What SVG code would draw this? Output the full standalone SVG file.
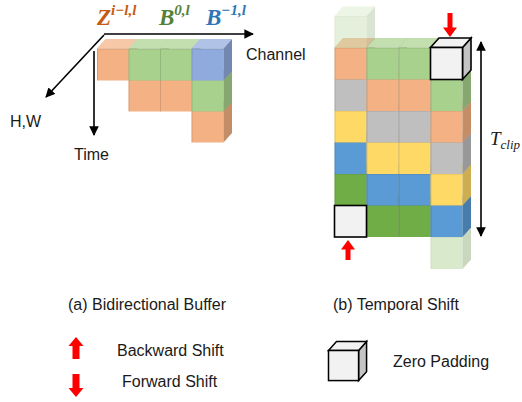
<svg xmlns="http://www.w3.org/2000/svg" xmlns:xlink="http://www.w3.org/1999/xlink" width="522" height="402" viewBox="0 0 522 402">
<style>
text{font-family:"Liberation Sans",Arial,sans-serif;font-size:16px;fill:#1a1a1a}
text.math{font-family:"Liberation Serif","DejaVu Serif",serif;font-style:italic;font-weight:bold;font-size:23px}
tspan.sup{font-size:15px}
.ax{stroke:#000;stroke-width:1.6;fill:none}
.red{fill:#ff0000}
.zero{fill:#f2f2f2;stroke:#000;stroke-width:1.6}
.zside{fill:#c4c4c4;stroke:#000;stroke-width:1.6}
.edge{fill:none;stroke:#000;stroke-opacity:.12;stroke-width:1}
</style>
<defs>
<g id="cube">
<rect width="32" height="32"/>
<path d="M0,0 L8.5,-9.5 L40.5,-9.5 L32,0Z"/>
<path d="M32,0 L40.5,-9.5 L40.5,22.5 L32,32Z"/>
<path d="M0,0 L8.5,-9.5 L40.5,-9.5 L32,0Z" fill="#fff" fill-opacity=".3"/>
<path d="M32,0 L40.5,-9.5 L40.5,22.5 L32,32Z" fill="#000" fill-opacity=".2"/>
<path class="edge" d="M0.5,32 V0.5 H32"/>
</g>
<g id="zcube">
<path class="zside" d="M32,0 L40.5,-9.5 L40.5,22.5 L32,32Z"/>
<path class="zero" d="M0,0 L8.5,-9.5 L40.5,-9.5 L32,0Z"/>
<rect class="zero" width="32" height="32"/>
</g>
<marker id="ah" viewBox="0 0 10 10" refX="9" refY="5" markerWidth="6" markerHeight="6" orient="auto-start-reverse" markerUnits="strokeWidth">
<path d="M0,0 L10,5 L0,10Z" fill="#000"/>
</marker>
</defs>

<!-- (a) Bidirectional buffer -->
<g id="labels-a">
<text class="math" x="97" y="25" style="fill:#c55a11">Z<tspan class="sup" dy="-10">i−l,l</tspan></text>
<text class="math" x="159" y="25" style="fill:#548235">B<tspan class="sup" dy="-10">0,l</tspan></text>
<text class="math" x="206" y="25" style="fill:#2e75b6">B<tspan class="sup" dy="-10">−1,l</tspan></text>
</g>
<g id="buffer-cubes">
<use xlink:href="#cube" x="191.5" y="110.5" fill="#f4b183"/>
<use xlink:href="#cube" x="128.5" y="79.5" fill="#f4b183"/>
<use xlink:href="#cube" x="160" y="79.5" fill="#f4b183"/>
<use xlink:href="#cube" x="191.5" y="79.5" fill="#a9d18e"/>
<use xlink:href="#cube" x="97" y="48.5" fill="#f4b183"/>
<use xlink:href="#cube" x="128.5" y="48.5" fill="#a9d18e"/>
<use xlink:href="#cube" x="160" y="48.5" fill="#a9d18e"/>
<use xlink:href="#cube" x="191.5" y="48.5" fill="#8faadc"/>
</g>
<g id="connectors">
<line class="ax" x1="104" y1="34" x2="253" y2="34" marker-end="url(#ah)"/>
<line class="ax" x1="104" y1="35" x2="46" y2="97" marker-end="url(#ah)"/>
<line class="ax" x1="94" y1="51" x2="94" y2="135" marker-end="url(#ah)"/>
<line class="ax" x1="481" y1="42" x2="481" y2="236" marker-start="url(#ah)" marker-end="url(#ah)"/>
</g>
<g id="axis-labels">
<text x="246" y="60">Channel</text>
<text x="10" y="127">H,W</text>
<text x="74" y="160">Time</text>
</g>

<!-- (b) Temporal shift -->
<g id="shift-cubes">
<use xlink:href="#cube" x="430.5" y="237" fill="#a9d18e" opacity=".45"/>
<use xlink:href="#cube" x="366.5" y="205" fill="#70ad47"/>
<use xlink:href="#cube" x="398.5" y="205" fill="#70ad47"/>
<use xlink:href="#cube" x="430.5" y="205" fill="#5b9bd5"/>
<use xlink:href="#cube" x="334.5" y="173.5" fill="#70ad47"/>
<use xlink:href="#cube" x="366.5" y="173.5" fill="#5b9bd5"/>
<use xlink:href="#cube" x="398.5" y="173.5" fill="#5b9bd5"/>
<use xlink:href="#cube" x="430.5" y="173.5" fill="#ffd966"/>
<use xlink:href="#cube" x="334.5" y="142" fill="#5b9bd5"/>
<use xlink:href="#cube" x="366.5" y="142" fill="#ffd966"/>
<use xlink:href="#cube" x="398.5" y="142" fill="#ffd966"/>
<use xlink:href="#cube" x="430.5" y="142" fill="#bfbfbf"/>
<use xlink:href="#cube" x="334.5" y="110.5" fill="#ffd966"/>
<use xlink:href="#cube" x="366.5" y="110.5" fill="#bfbfbf"/>
<use xlink:href="#cube" x="398.5" y="110.5" fill="#bfbfbf"/>
<use xlink:href="#cube" x="430.5" y="110.5" fill="#f4b183"/>
<use xlink:href="#cube" x="334.5" y="79" fill="#bfbfbf"/>
<use xlink:href="#cube" x="366.5" y="79" fill="#f4b183"/>
<use xlink:href="#cube" x="398.5" y="79" fill="#f4b183"/>
<use xlink:href="#cube" x="430.5" y="79" fill="#a9d18e"/>
<use xlink:href="#cube" x="334.5" y="47.5" fill="#f4b183"/>
<use xlink:href="#cube" x="366.5" y="47.5" fill="#a9d18e"/>
<use xlink:href="#cube" x="398.5" y="47.5" fill="#a9d18e"/>
<use xlink:href="#cube" x="334.5" y="16" fill="#a9d18e" opacity=".3"/>
<rect class="zero" x="334.5" y="205.5" width="32" height="31.5"/>
<use xlink:href="#zcube" x="430.5" y="47.5"/>
</g>
<g id="shift-arrows">
<path class="red" d="M447.5,13 h5 v14.5 h4.5 l-7,9.5 l-7,-9.5 h4.5Z"/>
<path class="red" d="M345.5,260 h5 v-10.5 h4.5 l-7,-9.5 l-7,9.5 h4.5Z"/>
</g>
<text class="math" x="490" y="145" style="font-weight:normal;font-size:19px">T<tspan font-size="13" dy="4">clip</tspan></text>

<!-- captions and legend -->
<text x="68" y="310">(a) Bidirectional Buffer</text>
<text x="333" y="310">(b) Temporal Shift</text>
<g id="legend-backward">
<path class="red" d="M72.5,359 h7 v-13 h4 l-7.5,-9 l-7.5,9 h4Z"/>
<text x="117" y="356">Backward Shift</text>
</g>
<g id="legend-forward">
<path class="red" d="M72.5,374 h7 v14 h4 l-7.5,9 l-7.5,-9 h4Z"/>
<text x="122" y="387">Forward Shift</text>
</g>
<g id="legend-zero">
<use xlink:href="#zcube" x="328.5" y="350.5" transform="translate(328.5,350.5) scale(0.94) translate(-328.5,-350.5)"/>
<text x="393" y="367">Zero Padding</text>
</g>
</svg>
